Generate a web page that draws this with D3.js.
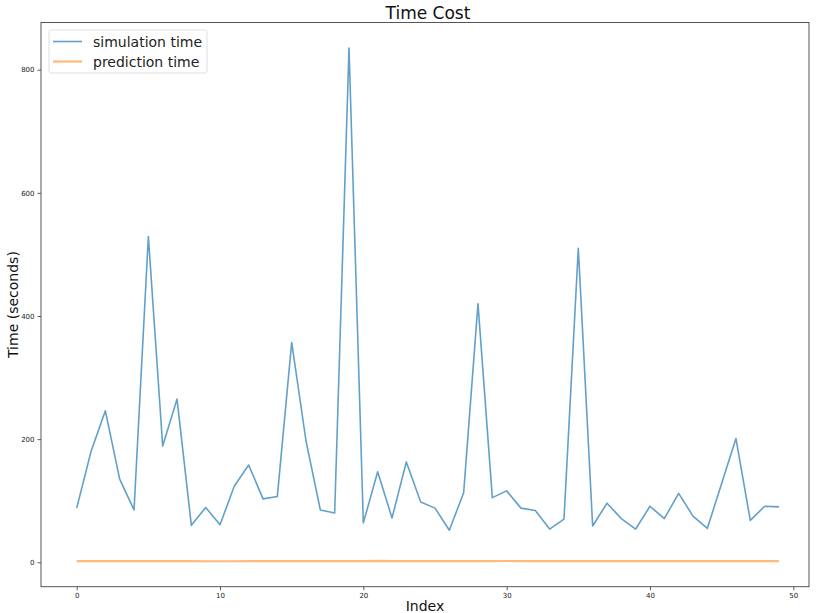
<!DOCTYPE html>
<html>
<head>
<meta charset="utf-8">
<script src="https://cdn.jsdelivr.net/npm/d3@7"></script>
<style>
  html, body { margin: 0; padding: 0; background: #fff; }
  svg { display: block; font-family: "DejaVu Sans", sans-serif; }
</style>
</head>
<body>
<svg id="chart" width="817" height="613"></svg>
<script>
const indices = d3.range(50);
const simulationTime = [
  88, 180, 246, 135, 85, 529, 189, 265, 60, 89,
  61, 124, 158, 103, 107, 357, 197, 85, 80, 835,
  64, 147, 72, 163, 98, 88, 52, 113, 420, 105,
  116, 88, 84, 54, 70, 510, 59, 96, 71, 54,
  91, 71, 112, 75, 55, 128, 201, 68, 91, 90
];
const predictionTime = [
  1.8, 1.8, 1.9, 2.0, 1.9, 1.8, 1.8, 1.9, 1.8, 1.7,
  1.7, 1.7, 1.8, 1.8, 1.8, 1.8, 1.8, 1.8, 1.8, 1.8,
  1.9, 2.2, 1.9, 1.8, 1.8, 1.8, 1.8, 1.8, 1.9, 2.0,
  2.1, 1.9, 1.9, 1.8, 1.8, 1.8, 1.8, 1.8, 1.8, 1.8,
  1.8, 1.8, 1.8, 1.8, 1.8, 1.8, 1.8, 1.8, 1.8, 1.8
];
const xTicks = [0, 10, 20, 30, 40, 50];
const yTicks = [0, 200, 400, 600, 800];
const seriesNames = ["simulation time", "prediction time"];
const seriesColors = ["#1f77b4", "#ff7f0e"];

const svg = d3.select("#chart");
const frame = { left: 41, right: 809, top: 22.5, bottom: 586.7 };

const x = d3.scaleLinear().domain([0, 50]).range([76.7, 793.3]);
const y = d3.scaleLinear().domain([0, 800]).range([562.3, 69.7]);

// axes
const xAxis = d3.axisBottom(x).tickValues(xTicks).tickSize(3.5).tickPadding(3);
const gx = svg.append("g").attr("transform", `translate(0,${frame.bottom})`).call(xAxis);
const yAxis = d3.axisLeft(y).tickValues(yTicks).tickSize(3.5).tickPadding(3);
const gy = svg.append("g").attr("transform", `translate(${frame.left},0)`).call(yAxis);
[gx, gy].forEach(g => {
  g.select(".domain").remove();
  g.selectAll(".tick line").attr("stroke", "#333").attr("stroke-width", 0.8);
  g.selectAll(".tick text").attr("fill", "#222").style("font-size", "7px")
    .style("font-family", "DejaVu Sans, sans-serif");
});

// lines
const line = vals => d3.line().x((d, i) => x(indices[i])).y(d => y(d))(vals);
svg.append("path").attr("d", line(simulationTime))
  .attr("fill", "none").attr("stroke", seriesColors[0]).attr("stroke-opacity", 0.7)
  .attr("stroke-width", 1.6).attr("stroke-linejoin", "round");
svg.append("path").attr("d", line(predictionTime))
  .attr("fill", "none").attr("stroke", seriesColors[1]).attr("stroke-opacity", 0.55)
  .attr("stroke-width", 2.2).attr("stroke-linejoin", "round");

// frame
svg.append("rect")
  .attr("x", frame.left).attr("y", frame.top)
  .attr("width", frame.right - frame.left).attr("height", frame.bottom - frame.top)
  .attr("fill", "none").attr("stroke", "#444").attr("stroke-width", 0.9);

// title & labels
svg.append("text").attr("x", (frame.left + frame.right) / 2 + 3).attr("y", 19)
  .attr("text-anchor", "middle").style("font-size", "17px").attr("fill", "#111").text("Time Cost");
svg.append("text").attr("x", (frame.left + frame.right) / 2).attr("y", 611)
  .attr("text-anchor", "middle").style("font-size", "14px").attr("fill", "#111").text("Index");
svg.append("text").attr("transform", `translate(18,${(frame.top + frame.bottom) / 2}) rotate(-90)`)
  .attr("text-anchor", "middle").style("font-size", "14px").attr("fill", "#111").text("Time (seconds)");

// legend
const lg = svg.append("g");
lg.append("rect").attr("x", 49).attr("y", 30).attr("width", 158).attr("height", 43)
  .attr("rx", 2.5).attr("fill", "#fff").attr("fill-opacity", 0.8)
  .attr("stroke", "#ddd").attr("stroke-width", 0.9);
seriesNames.forEach((name, i) => {
  const yy = 41.5 + i * 20;
  lg.append("line").attr("x1", 53).attr("x2", 82).attr("y1", yy).attr("y2", yy)
    .attr("stroke", seriesColors[i]).attr("stroke-opacity", i === 0 ? 0.7 : 0.55)
    .attr("stroke-width", i === 0 ? 1.6 : 2.2);
  lg.append("text").attr("x", 93).attr("y", yy + 5).style("font-size", "14px")
    .attr("fill", "#222").text(name);
});
</script>
</body>
</html>
